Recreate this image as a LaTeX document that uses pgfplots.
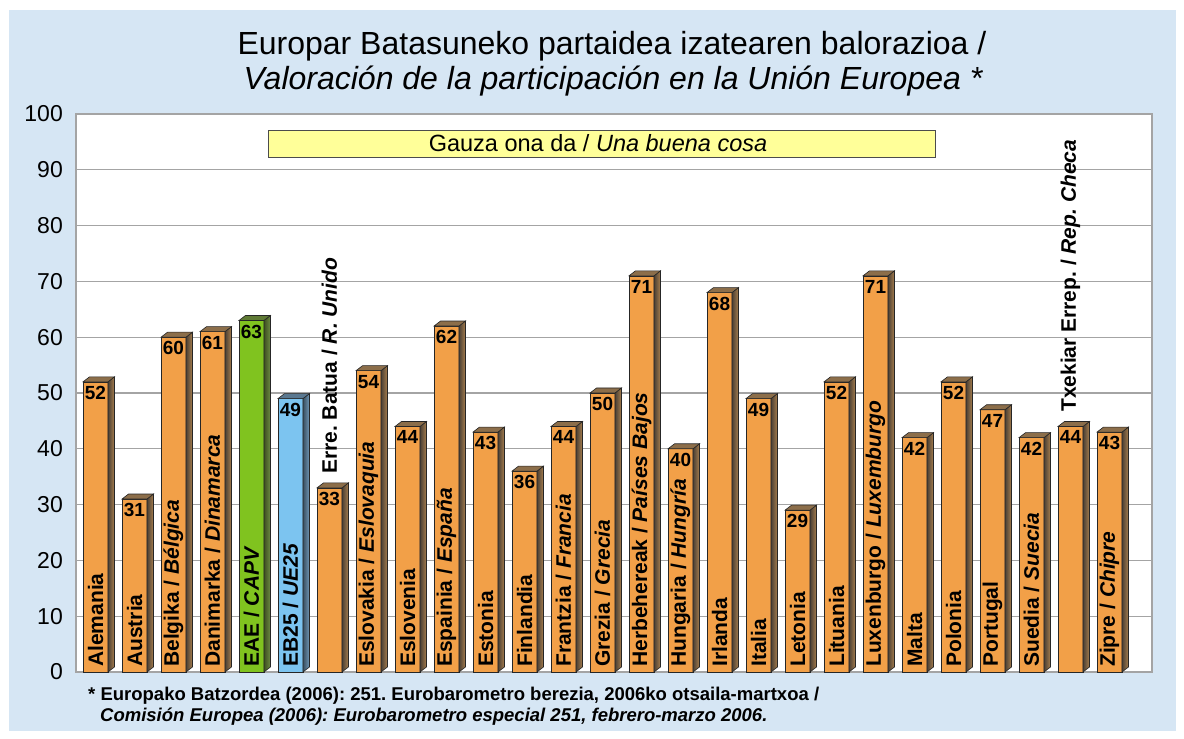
\documentclass[border=0pt]{standalone}
\usepackage{pgfplots}
\pgfplotsset{compat=1.18}
\usepackage{fontspec}
\setmainfont{Liberation Sans}
\frenchspacing
\definecolor{bgblue}{HTML}{D6E6F4}
\definecolor{barorange}{HTML}{F2A048}
\definecolor{bargreen}{HTML}{80C31F}
\definecolor{barblue}{HTML}{7CC4F0}
\definecolor{gridgray}{HTML}{A4A4A4}
\definecolor{boxyellow}{HTML}{FFFF99}
\definecolor{osideA}{HTML}{4A4036}
\definecolor{osideB}{HTML}{A87E4C}
\definecolor{otop}{HTML}{8C6E4A}
\definecolor{gsideA}{HTML}{3E5020}
\definecolor{gsideB}{HTML}{6E8C44}
\definecolor{gtop}{HTML}{5F7A35}
\definecolor{bsideA}{HTML}{3A5060}
\definecolor{bsideB}{HTML}{7098B8}
\definecolor{btop}{HTML}{5A7890}
\newcommand\fs[2]{\fontsize{#1}{#2}\selectfont}
\pgfdeclareplotmark{nothing}{}
\pgfplotsset{
  faces/.style n args={3}{
    only marks, scatter, mark=nothing,
    visualization depends on={rawy \as \barval},
    scatter/@pre marker code/.code={%
      \pgfmathsetmacro\hh{\barval*5.58}%
      \shade[left color=#1, right color=#2, draw=black!85, line width=0.6pt]
        (12.48pt,0pt) -- (18.98pt,5pt) -- (18.98pt,{5pt-\hh pt}) -- (12.48pt,{-\hh pt}) -- cycle;
      \fill[#3, draw=black!85, line width=0.6pt]
        (-12.48pt,0pt) -- (-5.98pt,5pt) -- (18.98pt,5pt) -- (12.48pt,0pt) -- cycle;
    },
    scatter/@post marker code/.code={},
  },
  frontbar/.style={
    ybar, bar width=0.64, bar shift=0pt, fill=#1, draw=black!85, line width=0.6pt,
    nodes near coords,
    every node near coord/.append style={anchor=north, yshift=-3pt, inner sep=1pt,
      font=\bfseries\fs{19}{22}, text=black},
  },
}
\begin{document}
\begin{tikzpicture}
\useasboundingbox (0pt,0pt) rectangle (1184pt,739pt);
\fill[white] (0pt,0pt) rectangle (1184pt,739pt);
\fill[bgblue] (9pt,8pt) rectangle (1176pt,729pt);
\begin{axis}[
  at={(76pt,67pt)}, anchor=south west,
  width=1076pt, height=558pt, scale only axis,
  xmin=-0.5, xmax=27.09, ymin=0, ymax=100,
  axis background/.style={fill=white},
  ytick={0,10,...,100}, xtick=\empty,
  ymajorgrids, grid style={draw=gridgray, line width=1.3pt},
  axis line style={draw=gridgray, line width=2.6pt},
  tick style={draw=none},
  yticklabel style={font=\fs{23}{26}, inner sep=0pt, xshift=-13pt},
  /pgf/number format/assume math mode=true,
  clip=false,
]
% orange bars
\addplot[frontbar=barorange] coordinates {
 (0,52) (1,31) (2,60) (3,61) (6,33) (7,54) (8,44) (9,62) (10,43) (11,36)
 (12,44) (13,50) (14,71) (15,40) (16,68) (17,49) (18,29) (19,52) (20,71)
 (21,42) (22,52) (23,47) (24,42) (25,44) (26,43)};
\addplot[faces={osideA}{osideB}{otop}] coordinates {
 (0,52) (1,31) (2,60) (3,61) (6,33) (7,54) (8,44) (9,62) (10,43) (11,36)
 (12,44) (13,50) (14,71) (15,40) (16,68) (17,49) (18,29) (19,52) (20,71)
 (21,42) (22,52) (23,47) (24,42) (25,44) (26,43)};
% EAE / CAPV
\addplot[frontbar=bargreen] coordinates {(4,63)};
\addplot[faces={gsideA}{gsideB}{gtop}] coordinates {(4,63)};
% EB25 / UE25
\addplot[frontbar=barblue] coordinates {(5,49)};
\addplot[faces={bsideA}{bsideB}{btop}] coordinates {(5,49)};
% category labels
\addplot[draw=none, mark=none, nodes near coords, point meta=explicit symbolic,
  every node near coord/.append style={rotate=90, anchor=west, inner sep=0pt,
    font=\bfseries\fs{21}{24}, text=black}]
 coordinates {
 (0,0.9) [Alemania]
 (1,0.9) [Austria]
 (2,0.9) [Belgika / \textit{Bélgica}]
 (3,0.9) [Danimarka / \textit{Dinamarca}]
 (4,0.9) [EAE / \textit{CAPV}]
 (5,0.9) [EB25 / \textit{UE25}]
 (6,35.5) [Erre. Batua / \textit{R. Unido}]
 (7,0.9) [Eslovakia / \textit{Eslovaquia}]
 (8,0.9) [Eslovenia]
 (9,0.9) [Espainia / \textit{España}]
 (10,0.9) [Estonia]
 (11,0.9) [Finlandia]
 (12,0.9) [Frantzia / \textit{Francia}]
 (13,0.9) [Grezia / \textit{Grecia}]
 (14,0.9) [Herbehereak / \textit{Países Bajos}]
 (15,0.9) [Hungaria / \textit{Hungría}]
 (16,0.9) [Irlanda]
 (17,0.9) [Italia]
 (18,0.9) [Letonia]
 (19,0.9) [Lituania]
 (20,0.9) [Luxenburgo / \textit{Luxemburgo}]
 (21,0.9) [Malta]
 (22,0.9) [Polonia]
 (23,0.9) [Portugal]
 (24,0.9) [Suedia / \textit{Suecia}]
 (25,46.6) [Txekiar Errep. / \textit{Rep. Checa}]
 (26,0.9) [Zipre / \textit{Chipre}]
 };
\end{axis}
% legend-like box
\draw[fill=boxyellow, draw=black!70, line width=0.8pt] (268pt,582pt) rectangle (935pt,609pt);
\node[font=\fs{23.5}{27}] at (598pt,595.5pt) {Gauza ona da / \textit{Una buena cosa}};
% title
\node[anchor=base, font=\fs{32}{36}] at (612pt,684pt) {Europar Batasuneko partaidea izatearen balorazioa /};
\node[anchor=base, font=\fs{32}{36}\itshape] at (613pt,649pt) {Valoración de la participación en la Unión Europea *};
% footnote
\node[anchor=base west, inner sep=0pt, font=\bfseries\fs{18.5}{21}] at (88pt,38pt)
  {* Europako Batzordea (2006): 251. Eurobarometro berezia, 2006ko otsaila-martxoa /};
\node[anchor=base west, inner sep=0pt, font=\bfseries\itshape\fs{18.5}{21}] at (100pt,17pt)
  {Comisión Europea (2006): Eurobarometro especial 251, febrero-marzo 2006.};
\end{tikzpicture}
\end{document}
